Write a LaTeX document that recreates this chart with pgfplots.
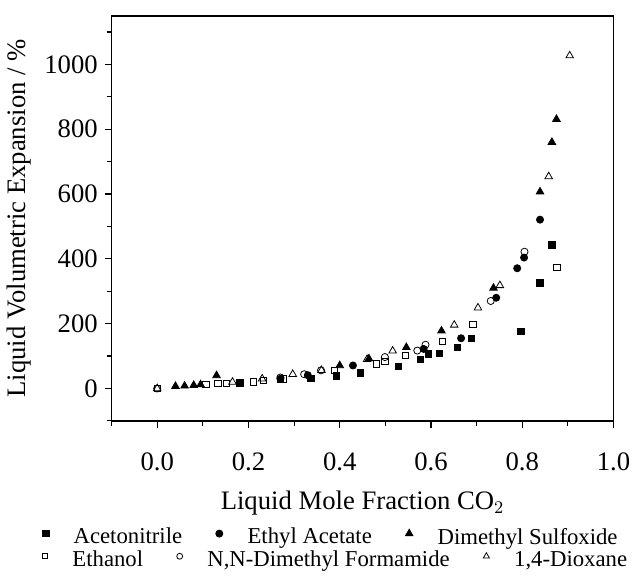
\documentclass[border=0pt]{standalone}
\usepackage{pgfplots}
\pgfplotsset{compat=1.18}
\usepackage{fontspec}
\setmainfont{Liberation Serif}
\pgfplotsset{
  rowlegend/.style={
    legend columns=-1,
    legend style={draw=none, fill=none, anchor=west, font=\fontsize{11.5}{12}\selectfont,
      /tikz/every odd column/.append style={column sep=10.5pt},
      /tikz/every even column/.append style={column sep=15pt}},
    legend image post style={yshift=2pt},
  },
}
\begin{document}
\begin{tikzpicture}
\begin{axis}[
  name=main,
  scale only axis,
  width=254pt, height=205pt,
  xmin=-0.1, xmax=1.0, ymin=-100, ymax=1150,
  xtick={0,0.2,...,1.0}, minor xtick={-0.1,0.1,0.3,0.5,0.7,0.9},
  ytick={0,200,...,1000}, minor ytick={-100,100,300,...,1100},
  xticklabel style={yshift=-9pt, /pgf/number format/.cd, fixed, fixed zerofill, precision=1},
  /pgf/number format/1000 sep={},
  /pgf/number format/assume math mode=true,
  tick align=outside, xtick pos=bottom, ytick pos=left,
  major tick length=3.5pt, minor tick length=2.5pt,
  tick style={black, line width=0.6pt},
  axis line style={line width=0.8pt},
  ticklabel style={font=\fontsize{13.5}{15}\selectfont},
  xlabel={Liquid Mole Fraction CO$_2$},
  ylabel={Liquid Volumetric Expansion / \%},
  label style={font=\fontsize{13.5}{15}\selectfont},
  xlabel style={yshift=-3.5pt},
  rowlegend,
  legend style={at={(-0.15,-0.288)}},
]
\addplot[only marks, mark=square*, mark size=1.6pt, black] coordinates {
 (0.181,17) (0.27,28) (0.337,31) (0.392,39) (0.446,48) (0.529,69) (0.577,89)
 (0.594,107) (0.618,109) (0.658,127) (0.688,155) (0.797,176) (0.839,326) (0.865,443)};
\addlegendentry{Acetonitrile}
\addplot[only marks, mark=*, mark size=1.8pt, black] coordinates {
 (0.27,30) (0.33,41) (0.429,71) (0.584,122) (0.666,155) (0.743,280) (0.789,371) (0.804,404) (0.839,521)};
\addlegendentry{Ethyl Acetate}
\addplot[only marks, mark=triangle*, mark size=2.2pt, black] coordinates {
 (0.04,7) (0.06,8) (0.08,10) (0.095,12) (0.13,40) (0.40,71) (0.464,92) (0.546,127)
 (0.623,178) (0.737,310) (0.839,607) (0.865,760) (0.875,831)};
\addlegendentry{Dimethyl Sulfoxide}
\addplot[only marks, mark=square, mark size=1.6pt, black] coordinates {
 (0,0) (0.107,13) (0.133,15) (0.152,15) (0.211,20) (0.233,25) (0.277,30) (0.388,56)
 (0.481,76) (0.499,83) (0.544,102) (0.625,145) (0.692,198) (0.876,373)};
\addplot[only marks, mark=o, mark size=1.8pt, black] coordinates {
 (0,0) (0.27,34) (0.322,44) (0.359,56) (0.499,97) (0.57,117) (0.588,135) (0.731,270) (0.805,422)};
\addplot[only marks, mark=triangle, mark size=2.2pt, black] coordinates {
 (0,0) (0.165,20) (0.23,30) (0.297,44) (0.36,56) (0.46,90) (0.516,116) (0.651,196)
 (0.703,249) (0.751,318) (0.858,654) (0.904,1027)};
\end{axis}
\begin{axis}[
  scale only axis, hide axis,
  width=254pt, height=205pt,
  xmin=-0.1, xmax=1.0, ymin=-100, ymax=1150,
  rowlegend,
  legend style={at={(-0.15,-0.344)}},
]
\addlegendimage{only marks, mark=square, mark size=1.3pt, black}
\addlegendentry{Ethanol}
\addlegendimage{only marks, mark=o, mark size=1.5pt, black}
\addlegendentry{N,N-Dimethyl Formamide}
\addlegendimage{only marks, mark=triangle, mark size=1.8pt, black}
\addlegendentry{1,4-Dioxane}
\end{axis}
\path ([yshift=8pt]main.north);
\end{tikzpicture}
\end{document}
